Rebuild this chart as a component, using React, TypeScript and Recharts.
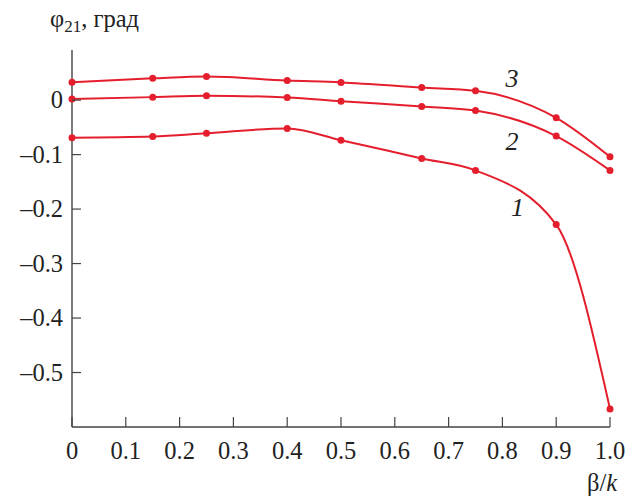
import { LineChart, Line, XAxis, YAxis, Label, ReferenceDot } from "recharts";

// β/k values where the curves were computed
const betaK = [0, 0.15, 0.25, 0.4, 0.5, 0.65, 0.75, 0.9, 1.0];
// φ21, degrees
const curve1 = [-0.069, -0.067, -0.061, -0.052, -0.0735, -0.107, -0.129, -0.2285, -0.567];
const curve2 = [0.002, 0.0055, 0.008, 0.005, -0.002, -0.0116, -0.019, -0.066, -0.129];
const curve3 = [0.033, 0.04, 0.0435, 0.036, 0.0325, 0.023, 0.017, -0.0325, -0.104];

const xTicks = [0, 0.1, 0.2, 0.3, 0.4, 0.5, 0.6, 0.7, 0.8, 0.9, 1.0];
const yTicks = [0, -0.1, -0.2, -0.3, -0.4, -0.5];

// curve numbers placed next to the lines (data coords)
const curveLabels = [
  { text: "1", x: 0.828, y: -0.196 },
  { text: "2", x: 0.818, y: -0.075 },
  { text: "3", x: 0.818, y: 0.04 },
];

const FONT = "Liberation Serif";
const RED = "#e41e2d";
const AXIS = "#444";
const FS = 24.5;
const txt = { fontFamily: FONT, fontSize: FS, fill: "#222" };

const data = betaK.map((x, i) => ({ x, c1: curve1[i], c2: curve2[i], c3: curve3[i] }));

const fmtX = (v: number) => (v === 0 ? "0" : v === 1 ? "1.0" : v.toFixed(1));
const fmtY = (v: number) => (v === 0 ? "0" : "\u2013" + Math.abs(v).toFixed(1));

const Y_MARGIN = 9;
const X_MARGIN = 14;

function YTick(props: any) {
  const { x, y, payload } = props;
  const ax = x + Y_MARGIN;
  return (
    <g>
      <line x1={ax} y1={y} x2={ax + 9} y2={y} stroke={AXIS} strokeWidth={1.2} />
      <text x={x} y={y} dy="0.34em" textAnchor="end" style={txt}>
        {fmtY(payload.value)}
      </text>
    </g>
  );
}

function XTick(props: any) {
  const { x, y, payload } = props;
  const ay = y - X_MARGIN;
  return (
    <g>
      <line x1={x} y1={ay} x2={x} y2={ay - 10} stroke={AXIS} strokeWidth={1.2} />
      <text x={x} y={ay + 32} textAnchor="middle" style={txt}>
        {fmtX(payload.value)}
      </text>
    </g>
  );
}

export default function App() {
  return (
    <div style={{ position: "absolute", left: 0, top: 0, background: "#fff" }}>
      <LineChart width={636} height={497} data={data} margin={{ top: 50, right: 26, bottom: 40, left: 12 }}>
        <XAxis
          dataKey="x"
          type="number"
          domain={[0, 1]}
          ticks={xTicks}
          tickLine={false}
          tickSize={0}
          tickMargin={X_MARGIN}
          tick={<XTick />}
          axisLine={{ stroke: AXIS, strokeWidth: 1.4 }}
          height={30}
        >
          <Label
            content={(p: any) => {
              const vb = p.viewBox;
              return (
                <text x={vb.x + vb.width - 8} y={vb.y + 64} textAnchor="middle" style={txt}>
                  β/<tspan style={{ fontStyle: "italic" }}>k</tspan>
                </text>
              );
            }}
          />
        </XAxis>
        <YAxis
          type="number"
          domain={[-0.6, 0.092]}
          ticks={yTicks}
          tickLine={false}
          tickSize={0}
          tickMargin={Y_MARGIN}
          tick={<YTick />}
          axisLine={{ stroke: AXIS, strokeWidth: 1.4 }}
          width={60}
          allowDataOverflow
        >
          <Label
            content={(p: any) => {
              const vb = p.viewBox;
              return (
                <text x={vb.x + 38} y={vb.y - 23} style={txt}>
                  φ
                  <tspan style={{ fontSize: 17 }} dy={5}>21</tspan>
                  <tspan dy={-5}>, град</tspan>
                </text>
              );
            }}
          />
        </YAxis>
        {(["c1", "c2", "c3"] as const).map((k) => (
          <Line
            key={k}
            type="monotone"
            dataKey={k}
            stroke={RED}
            strokeWidth={2}
            dot={{ r: 3.5, fill: RED, stroke: RED, strokeWidth: 0 }}
            isAnimationActive={false}
          />
        ))}
        {curveLabels.map((l) => (
          <ReferenceDot
            key={l.text}
            x={l.x}
            y={l.y}
            r={0}
            fill="none"
            stroke="none"
            label={(p: any) => (
              <text
                x={p.viewBox.x}
                y={p.viewBox.y}
                dy="0.35em"
                textAnchor="middle"
                style={{ ...txt, fontSize: 26, fontStyle: "italic" }}
              >
                {l.text}
              </text>
            )}
          />
        ))}
      </LineChart>
    </div>
  );
}
